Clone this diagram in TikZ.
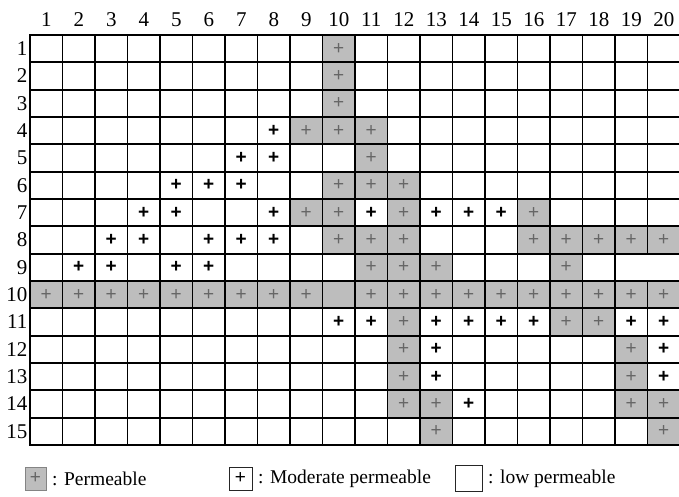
\documentclass[tikz,border=0pt]{standalone}
\usepackage{fontspec}
\setmainfont{Liberation Serif}
\setsansfont{Liberation Sans}
\definecolor{permgray}{gray}{0.74}
\definecolor{plusgray}{gray}{0.4}
\tikzset{
  perm/.style={fill=permgray},
  gridline/.style={line width=1.7pt, draw=black},
  border/.style={line width=2.4pt, draw=black},
  mplus/.style={font=\fontsize{19}{19}\selectfont\sffamily\bfseries, inner sep=0pt},
  pplus/.style={font=\fontsize{19}{19}\selectfont\sffamily, text=plusgray, inner sep=0pt},
  lab/.style={font=\fontsize{21}{21}\selectfont, inner sep=0pt},
  legtext/.style={font=\fontsize{19.5}{19.5}\selectfont, anchor=west, inner sep=0pt},
  legbox/.style={line width=1pt, draw=black!85},
}
\begin{document}
\begin{tikzpicture}[x=1pt,y=-1pt]
\useasboundingbox (0,0) rectangle (679,496);
\def\cw{32.5}
\def\ch{27.333}
% permeable cells
\foreach \c/\r in {10/1,10/2,10/3,9/4,10/4,11/4,11/5,10/6,11/6,12/6,
  9/7,10/7,12/7,16/7,10/8,11/8,12/8,16/8,17/8,18/8,19/8,20/8,
  11/9,12/9,13/9,17/9,
  1/10,2/10,3/10,4/10,5/10,6/10,7/10,8/10,9/10,10/10,11/10,12/10,13/10,14/10,15/10,16/10,17/10,18/10,19/10,20/10,
  12/11,17/11,18/11,12/12,19/12,12/13,19/13,12/14,13/14,19/14,20/14,13/15,20/15}
  {\fill[perm] ({30+(\c-1)*\cw},{35+(\r-1)*\ch}) rectangle ++(\cw,\ch);}
% grid lines
\foreach \r in {1,...,14}
  {\draw[gridline] (30,{35+\r*\ch}) -- (680,{35+\r*\ch});}
\foreach \c in {1,...,18}
  {\draw[gridline] ({30+\c*\cw},35) -- ({30+\c*\cw},{35+15*\ch});}
\draw[gridline] ({30+19*\cw},35) -- ({30+19*\cw},{35+8*\ch});
\draw[gridline] ({30+19*\cw},{35+9*\ch}) -- ({30+19*\cw},{35+15*\ch});
\draw[border] (30,35) rectangle (680,{35+15*\ch});
% pluses in permeable cells
\foreach \c/\r in {10/1,10/2,10/3,9/4,10/4,11/4,11/5,10/6,11/6,12/6,
  9/7,10/7,12/7,16/7,10/8,11/8,12/8,16/8,17/8,18/8,19/8,20/8,
  11/9,12/9,13/9,17/9,
  1/10,2/10,3/10,4/10,5/10,6/10,7/10,8/10,9/10,11/10,12/10,13/10,14/10,15/10,16/10,17/10,18/10,19/10,20/10,
  12/11,17/11,18/11,12/12,19/12,12/13,19/13,12/14,13/14,19/14,20/14,13/15,20/15}
  {\node[pplus] (p-\c-\r) at ({30+(\c-0.5)*\cw},{35+(\r-0.5)*\ch}) {+};}
% pluses in moderate cells
\foreach \c/\r in {8/4,7/5,8/5,5/6,6/6,7/6,4/7,5/7,8/7,11/7,13/7,14/7,15/7,
  3/8,4/8,6/8,7/8,8/8,2/9,3/9,5/9,6/9,
  10/11,11/11,13/11,14/11,15/11,16/11,19/11,20/11,13/12,20/12,13/13,20/13,14/14}
  {\node[mplus] (m-\c-\r) at ({30+(\c-0.5)*\cw},{35+(\r-0.5)*\ch}) {+};}
% column labels
\foreach \c in {1,...,20}
  {\node[lab] (col-\c) at ({30+(\c-0.5)*\cw},20) {\c};}
% row labels
\foreach \r in {1,...,15}
  {\node[lab, anchor=east] (row-\r) at (27.5,{35+(\r-0.5)*\ch}) {\r};}
% legend
\draw[legbox, fill=permgray, draw=permgray!70!black] (25,467) rectangle (46,490);
\node[pplus] (lp) at (35.5,478.5) {+};
\node[legtext] (lpt) at (52,479) {: Permeable};
\draw[legbox] (229,467) rectangle (252,490);
\node[mplus, font=\fontsize{19}{19}\selectfont\sffamily] (lm) at (240.5,478.5) {+};
\node[legtext] (lmt) at (258,479) {: Moderate permeable};
\draw[legbox] (455,465) rectangle (482,491);
\node[legtext] (llt) at (488,479) {: low permeable};
\end{tikzpicture}
\end{document}
